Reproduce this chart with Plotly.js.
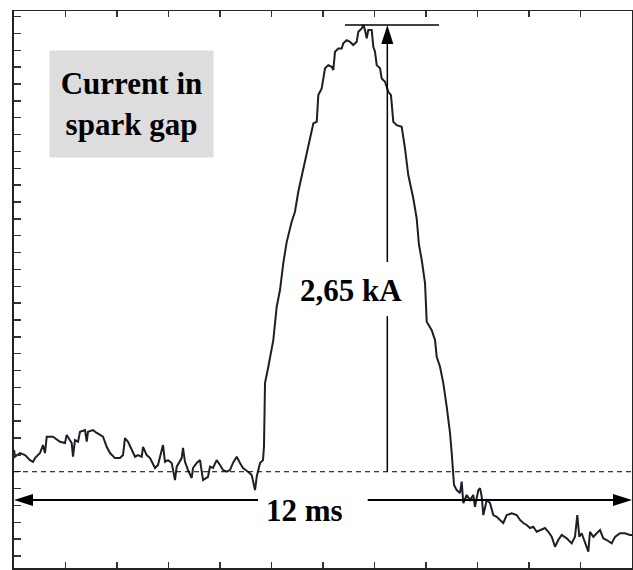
<!DOCTYPE html>
<html>
<head>
<meta charset="utf-8">
<script src="https://cdn.plot.ly/plotly-3.0.1.min.js"></script>
<style>html,body{margin:0;padding:0;background:#fff;}#chart{width:633px;height:570px;}</style>
</head>
<body>
<div id="chart"></div>
<script>
// Time axis in ms, current in kA (baseline = 0)
const time_ms = [
 0.000,0.019,0.117,0.214,0.311,0.369,0.408,0.505,0.563,0.602,0.635,0.757,0.893,0.990,1.023,1.120,1.146,1.184,1.243,1.282,
 1.379,1.412,1.437,1.534,1.606,1.670,1.728,1.800,1.864,1.961,2.058,2.117,2.155,2.214,2.285,2.350,2.408,2.480,2.505,2.577,
 2.641,2.738,2.796,2.893,2.932,2.990,3.062,3.126,3.159,3.256,3.282,3.320,3.379,3.450,3.476,3.548,3.612,3.670,3.767,3.806,
 3.864,3.936,4.000,4.058,4.130,4.194,4.252,4.324,4.388,4.447,4.544,4.616,4.680,4.713,4.777,4.835,4.854,4.874,4.938,5.035,
 5.101,5.165,5.229,5.295,5.392,5.456,5.520,5.617,5.715,5.812,5.878,5.909,5.975,6.039,6.103,6.169,6.200,6.233,6.297,6.363,
 6.394,6.460,6.524,6.588,6.654,6.686,6.751,6.783,6.816,6.849,6.880,6.946,6.977,7.010,7.043,7.107,7.140,7.204,7.268,7.320,
 7.365,7.431,7.528,7.592,7.656,7.753,7.819,7.864,7.917,7.981,8.014,8.111,8.175,8.208,8.272,8.336,8.402,8.466,8.499,8.530,
 8.544,8.596,8.660,8.693,8.724,8.790,8.854,8.918,8.951,9.016,9.049,9.082,9.113,9.179,9.243,9.307,9.373,9.437,9.501,9.567,
 9.664,9.761,9.825,9.890,9.955,10.019,10.083,10.150,10.214,10.311,10.375,10.441,10.505,10.569,10.635,10.732,10.829,10.893,10.938,10.977,
 11.023,11.087,11.152,11.184,11.249,11.315,11.379,11.443,11.509,11.606,11.670,11.767,11.864,11.961,12.000
];
const current_kA = [
 0.129,0.089,0.111,0.099,0.069,0.059,0.081,0.111,0.158,0.111,0.208,0.208,0.178,0.170,0.218,0.170,0.089,0.188,0.178,0.237,
 0.247,0.178,0.237,0.247,0.230,0.218,0.208,0.148,0.111,0.081,0.081,0.099,0.200,0.178,0.129,0.089,0.099,0.089,0.148,0.099,
 0.081,0.022,0.040,0.158,0.059,0.069,0.052,-0.049,0.030,0.081,0.141,0.059,0.010,-0.037,0.022,0.052,0.069,-0.049,-0.030,0.030,
 0.022,0.069,0.040,0.010,0.000,0.010,0.052,0.089,0.052,0.022,0.000,-0.020,-0.109,-0.030,0.052,0.069,0.148,0.526,0.623,0.781,
 0.979,1.078,1.238,1.362,1.483,1.542,1.661,1.800,1.938,2.066,2.076,2.234,2.274,2.393,2.412,2.402,2.383,2.491,2.511,2.511,
 2.541,2.560,2.550,2.531,2.550,2.610,2.630,2.649,2.620,2.571,2.620,2.620,2.521,2.491,2.412,2.393,2.333,2.313,2.254,2.234,
 2.076,2.056,2.046,1.918,1.760,1.622,1.503,1.345,1.256,1.119,0.890,0.840,0.781,0.682,0.623,0.526,0.386,0.230,0.111,-0.008,
 -0.079,-0.109,-0.126,-0.059,-0.186,-0.138,-0.168,-0.138,-0.208,-0.109,-0.097,-0.148,-0.257,-0.168,-0.186,-0.257,-0.267,-0.286,-0.304,-0.257,
 -0.247,-0.257,-0.286,-0.304,-0.316,-0.334,-0.326,-0.356,-0.346,-0.334,-0.356,-0.386,-0.445,-0.405,-0.375,-0.395,-0.425,-0.386,-0.257,-0.386,
 -0.365,-0.425,-0.474,-0.356,-0.386,-0.365,-0.346,-0.395,-0.405,-0.425,-0.386,-0.365,-0.365,-0.375,-0.375
];
const peak_kA = 2.65;
const span_ms = 12;
const label_peak = "2,65 kA";
const label_span = "12 ms";
const label_title = "Current in<br>spark gap";

const serif = "'Liberation Serif', 'Times New Roman', serif";
const trace = {
  x: time_ms, y: current_kA, type: 'scatter', mode: 'lines',
  line: {color: '#1e1e28', width: 2}, hoverinfo: 'skip'
};

const arrowY = -0.168;   // horizontal arrow level
const vX = 7.249;        // vertical arrow position

const layout = {
  width: 633, height: 570,
  margin: {l: 14, r: 1, t: 11, b: 2},
  paper_bgcolor: '#fff', plot_bgcolor: '#fff',
  showlegend: false,
  xaxis: {
    range: [0, span_ms], dtick: 1, tick0: 0, ticks: 'inside', ticklen: 6, tickwidth: 1.5, tickcolor: '#333',
    showticklabels: false, showgrid: false, zeroline: false,
    showline: true, linecolor: '#222', linewidth: 1.5, mirror: 'ticks'
  },
  yaxis: {
    range: [-0.571, 2.733], dtick: 0.1, tick0: 0, ticks: 'inside', ticklen: 7, tickwidth: 1.5, tickcolor: '#333',
    showticklabels: false, showgrid: false, zeroline: false,
    showline: true, linecolor: '#222', linewidth: 2, mirror: true
  },
  shapes: [
    // dashed baseline
    {type: 'line', xref: 'x', yref: 'y', x0: 0, x1: span_ms, y0: 0, y1: 0, line: {color: '#000', width: 1, dash: '5px,4px'}},
    // horizontal span arrow lines
    {type: 'line', xref: 'x', yref: 'y', x0: 0.3, x1: 4.738, y0: arrowY, y1: arrowY, line: {color: '#000', width: 2}},
    {type: 'line', xref: 'x', yref: 'y', x0: 6.868, x1: 11.7, y0: arrowY, y1: arrowY, line: {color: '#000', width: 2}},
    {type: 'path', xref: 'x', yref: 'y', xsizemode: 'pixel', ysizemode: 'pixel', xanchor: 0, yanchor: arrowY,
     path: 'M0,0 L19,6 L19,-6 Z', fillcolor: '#000', line: {width: 0}},
    {type: 'path', xref: 'x', yref: 'y', xsizemode: 'pixel', ysizemode: 'pixel', xanchor: span_ms, yanchor: arrowY,
     path: 'M0,0 L-19,6 L-19,-6 Z', fillcolor: '#000', line: {width: 0}},
    // vertical peak arrow lines
    {type: 'line', xref: 'x', yref: 'y', x0: vX, x1: vX, y0: 0, y1: 0.923, line: {color: '#000', width: 1.5}},
    {type: 'line', xref: 'x', yref: 'y', x0: vX, x1: vX, y0: 1.244, y1: 2.55, line: {color: '#000', width: 1.5}},
    {type: 'path', xref: 'x', yref: 'y', xsizemode: 'pixel', ysizemode: 'pixel', xanchor: vX, yanchor: peak_kA,
     path: 'M0,0 L-6,-19 L6,-19 Z', fillcolor: '#000', line: {width: 0}},
    // peak level line
    {type: 'line', xref: 'x', yref: 'y', x0: 6.427, x1: 8.252, y0: peak_kA, y1: peak_kA, line: {color: '#000', width: 1.5}}
  ],
  annotations: [
    {xref: 'paper', yref: 'paper', x: 0.190, y: 0.833, xanchor: 'center', yanchor: 'middle',
     text: '<b>' + label_title + '</b>', showarrow: false, bgcolor: '#dddddd',
     width: 159, height: 102, borderpad: 2, font: {family: serif, size: 31, color: '#000'}},
    {xref: 'x', yref: 'y', x: 6.544, y: 1.075, xanchor: 'center', yanchor: 'middle',
     text: '<b>' + label_peak + '</b>', showarrow: false, font: {family: serif, size: 31, color: '#000'}},
    {xref: 'x', yref: 'y', x: 5.65, y: -0.228, xanchor: 'center', yanchor: 'middle',
     text: '<b>' + label_span + '</b>', showarrow: false, font: {family: serif, size: 31, color: '#000'}}
  ]
};

Plotly.newPlot('chart', [trace], layout, {displayModeBar: false, staticPlot: true});
</script>
</body>
</html>
